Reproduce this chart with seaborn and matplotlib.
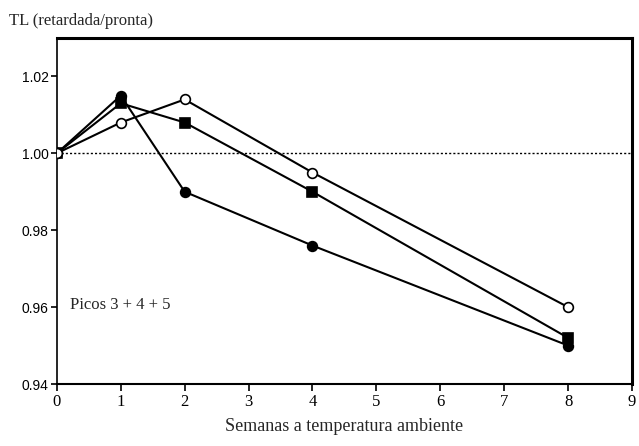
import pandas as pd
import seaborn as sns
import matplotlib.pyplot as plt

# semanas a temperatura ambiente
semanas = [0, 1, 2, 4, 8]
# TL retardada/pronta, picos 3 + 4 + 5
serie_circulo_abierto = [1.000, 1.008, 1.014, 0.995, 0.960]
serie_cuadrado = [1.000, 1.013, 1.008, 0.990, 0.952]
serie_circulo_lleno = [1.000, 1.015, 0.990, 0.976, 0.950]

x_ticks = list(range(10))
y_ticks = [0.94, 0.96, 0.98, 1.00, 1.02]

sns.set_style('white')
plt.rcParams['font.family'] = ['Liberation Serif', 'DejaVu Serif']

fig = plt.figure(figsize=(6.39, 4.46), dpi=100)
ax = fig.add_axes([0.089, 0.139, 0.900, 0.776])

ax.axhline(1.0, color='black', lw=1.0, ls=(0, (1.5, 1.5)), zorder=1)

series = [
    (serie_cuadrado, 's', 'black'),
    (serie_circulo_lleno, 'o', 'black'),
    (serie_circulo_abierto, 'o', 'white'),
]
for valores, marker, face in series:
    df = pd.DataFrame({'x': semanas, 'y': valores})
    sns.lineplot(data=df, x='x', y='y', ax=ax, color='black', lw=1.5,
                 marker=marker, markersize=7, markerfacecolor=face,
                 markeredgecolor='black', markeredgewidth=1.2, zorder=3)

ax.set_xlim(0, 9)
ax.set_ylim(0.94, 1.03)
ax.set_xticks(x_ticks)
ax.set_xticklabels([str(t) for t in x_ticks], fontsize=12)
ax.set_yticks(y_ticks)
ax.set_yticklabels([f'{t:.2f}' for t in y_ticks], fontsize=10,
                   family=['Liberation Sans', 'DejaVu Sans'])
ax.tick_params(axis='both', direction='out', length=5, width=1.2,
               colors='black', pad=2)
ax.tick_params(axis='y', length=4)
ax.xaxis.set_ticks_position('bottom')
ax.yaxis.set_ticks_position('left')

for side, lw in [('left', 1.2), ('bottom', 1.5), ('top', 2.2), ('right', 2.2)]:
    ax.spines[side].set_visible(True)
    ax.spines[side].set_color('black')
    ax.spines[side].set_linewidth(lw)

ax.set_xlabel('Semanas a temperatura ambiente', fontsize=13, labelpad=6)
ax.set_ylabel('')
fig.text(0.014, 0.935, 'TL (retardada/pronta)', fontsize=12, ha='left', va='bottom')
ax.text(0.2, 0.9605, 'Picos 3 + 4 + 5', fontsize=12, ha='left', va='center')

fig.savefig('out.png', dpi=100)
